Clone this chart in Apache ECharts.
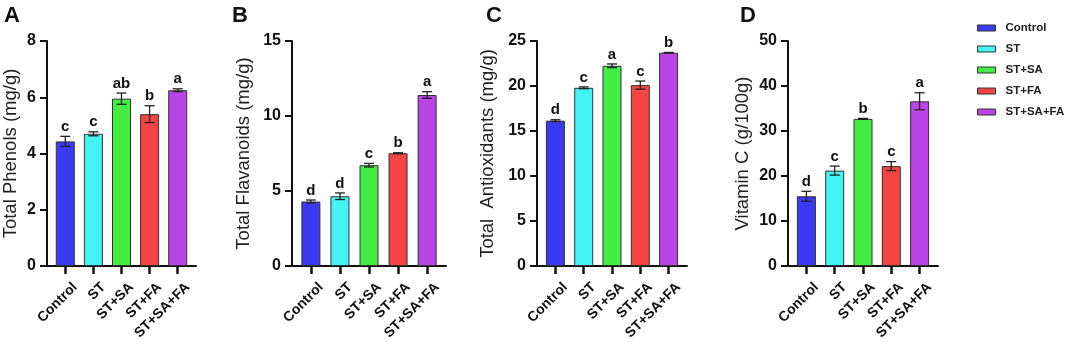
<!DOCTYPE html>
<html><head><meta charset="utf-8">
<script src="https://cdn.jsdelivr.net/npm/echarts@6/dist/echarts.min.js"></script>
<style>html,body{margin:0;padding:0;background:#fff}#c{width:1065px;height:346px}</style>
</head><body><div id="c"></div>
<script>
const categories = ['Control', 'ST', 'ST+SA', 'ST+FA', 'ST+SA+FA'];
const panelLetters = ['A', 'B', 'C', 'D'];
const yNames = ['Total Phenols (mg/g)', 'Total Flavanoids (mg/g)', 'Total  Antioxidants (mg/g)', 'Vitamin C (g/100g)'];
const yMax = [8, 15, 25, 50];
const yInterval = [2, 5, 5, 10];

const phenols = [4.43, 4.70, 5.95, 5.40, 6.25];
const phenolsErr = [0.18, 0.07, 0.20, 0.30, 0.05];
const phenolsLetters = ['c', 'c', 'ab', 'b', 'a'];

const flavanoids = [4.30, 4.65, 6.72, 7.52, 11.40];
const flavanoidsErr = [0.10, 0.22, 0.12, 0.03, 0.22];
const flavanoidsLetters = ['d', 'd', 'c', 'b', 'a'];

const antioxidants = [16.15, 19.80, 22.25, 20.10, 23.70];
const antioxidantsErr = [0.10, 0.10, 0.20, 0.45, 0.03];
const antioxidantsLetters = ['d', 'c', 'a', 'c', 'b'];

const vitaminC = [15.5, 21.2, 32.7, 22.2, 36.6];
const vitaminCErr = [1.1, 1.0, 0.1, 1.0, 1.9];
const vitaminCLetters = ['d', 'c', 'b', 'c', 'a'];

const colors = ['#3a3af2', '#44f4f4', '#44ee44', '#f44444', '#bb44e6'];

const panelValues = [phenols, flavanoids, antioxidants, vitaminC];
const panelErrs = [phenolsErr, flavanoidsErr, antioxidantsErr, vitaminCErr];
const panelSig = [phenolsLetters, flavanoidsLetters, antioxidantsLetters, vitaminCLetters];

const FONT = 'Liberation Sans, Arial, sans-serif';
const gridLeft = [46, 292, 537, 788];
const gridWidth = [150, 154, 150, 150];
const titleLeft = [4, 232, 486, 740];
const nameGaps = [27, 39, 40, 36];
const tickPos = categories.map((c, i) => i);
const labelPos = categories.map((c, i) => i + 0.35);

const grids = [], xAxes = [], yAxes = [], series = [], titles = [];
for (let p = 0; p < 4; p++) {
  grids.push({ left: gridLeft[p], width: gridWidth[p], top: 41, height: 225 });
  titles.push({ text: panelLetters[p], left: titleLeft[p], top: 5, padding: 0,
    textStyle: { fontFamily: FONT, fontWeight: 'bold', fontSize: 22, color: '#111' } });
  xAxes.push({
    gridIndex: p, type: 'value', min: -0.65, max: 4.65,
    splitLine: { show: false },
    axisLine: { onZero: false, lineStyle: { color: '#111', width: 2 } },
    axisTick: { show: true, customValues: tickPos, length: 8, lineStyle: { color: '#111', width: 2.5 } },
    axisLabel: { customValues: labelPos, rotate: 45, margin: 19,
      formatter: v => categories[Math.floor(v)],
      fontFamily: FONT, fontWeight: 'bold', fontSize: 14, color: '#111' }
  });
  yAxes.push({
    gridIndex: p, type: 'value', min: 0, max: yMax[p], interval: yInterval[p],
    name: yNames[p], nameLocation: 'middle', nameGap: nameGaps[p],
    nameTextStyle: { fontFamily: FONT, fontSize: 18.5, color: '#222' },
    splitLine: { show: false },
    axisLine: { show: true, onZero: false, lineStyle: { color: '#111', width: 2 } },
    axisTick: { show: true, length: 7, lineStyle: { color: '#111', width: 2 } },
    axisLabel: { margin: 11, fontFamily: FONT, fontWeight: 'bold', fontSize: 16, color: '#111' }
  });
  for (let i = 0; i < 5; i++) {
    series.push({
      type: 'bar', name: categories[i], xAxisIndex: p, yAxisIndex: p,
      barWidth: 19, barGap: '-100%',
      itemStyle: { color: colors[i], borderColor: '#333', borderWidth: 1 },
      data: [[i, panelValues[p][i]]]
    });
  }
  const sig = panelSig[p];
  series.push({
    type: 'custom', xAxisIndex: p, yAxisIndex: p, z: 10, silent: true,
    data: panelValues[p].map((v, i) => [i, v, panelErrs[p][i]]),
    renderItem: function (params, api) {
      const x = api.value(0), m = api.value(1), e = api.value(2);
      const hi = api.coord([x, m + e]);
      const lo = api.coord([x, m - e]);
      const cap = 5;
      const ls = { stroke: '#222', lineWidth: 1.3 };
      return { type: 'group', children: [
        { type: 'line', shape: { x1: hi[0], y1: hi[1], x2: lo[0], y2: lo[1] }, style: ls },
        { type: 'line', shape: { x1: hi[0] - cap, y1: hi[1], x2: hi[0] + cap, y2: hi[1] }, style: ls },
        { type: 'line', shape: { x1: lo[0] - cap, y1: lo[1], x2: lo[0] + cap, y2: lo[1] }, style: ls },
        { type: 'text', style: { text: sig[params.dataIndex], x: hi[0], y: hi[1] - 2,
          textAlign: 'center', textVerticalAlign: 'bottom',
          font: 'bold 15px ' + FONT, fill: '#111' } }
      ]};
    }
  });
}

const chart = echarts.init(document.getElementById('c'), null, { renderer: 'canvas' });
chart.setOption({
  animation: false,
  backgroundColor: '#fff',
  title: titles,
  grid: grids, xAxis: xAxes, yAxis: yAxes,
  legend: {
    data: categories, orient: 'vertical', left: 972, top: 16,
    itemWidth: 18, itemHeight: 6, itemGap: 7, icon: 'rect',
    itemStyle: { borderColor: '#333', borderWidth: 1 },
    textStyle: { fontFamily: FONT, fontWeight: 'bold', fontSize: 11.5, color: '#222', lineHeight: 14, padding: [0, 0, 0, 5] }
  },
  series: series
});
</script></body></html>
